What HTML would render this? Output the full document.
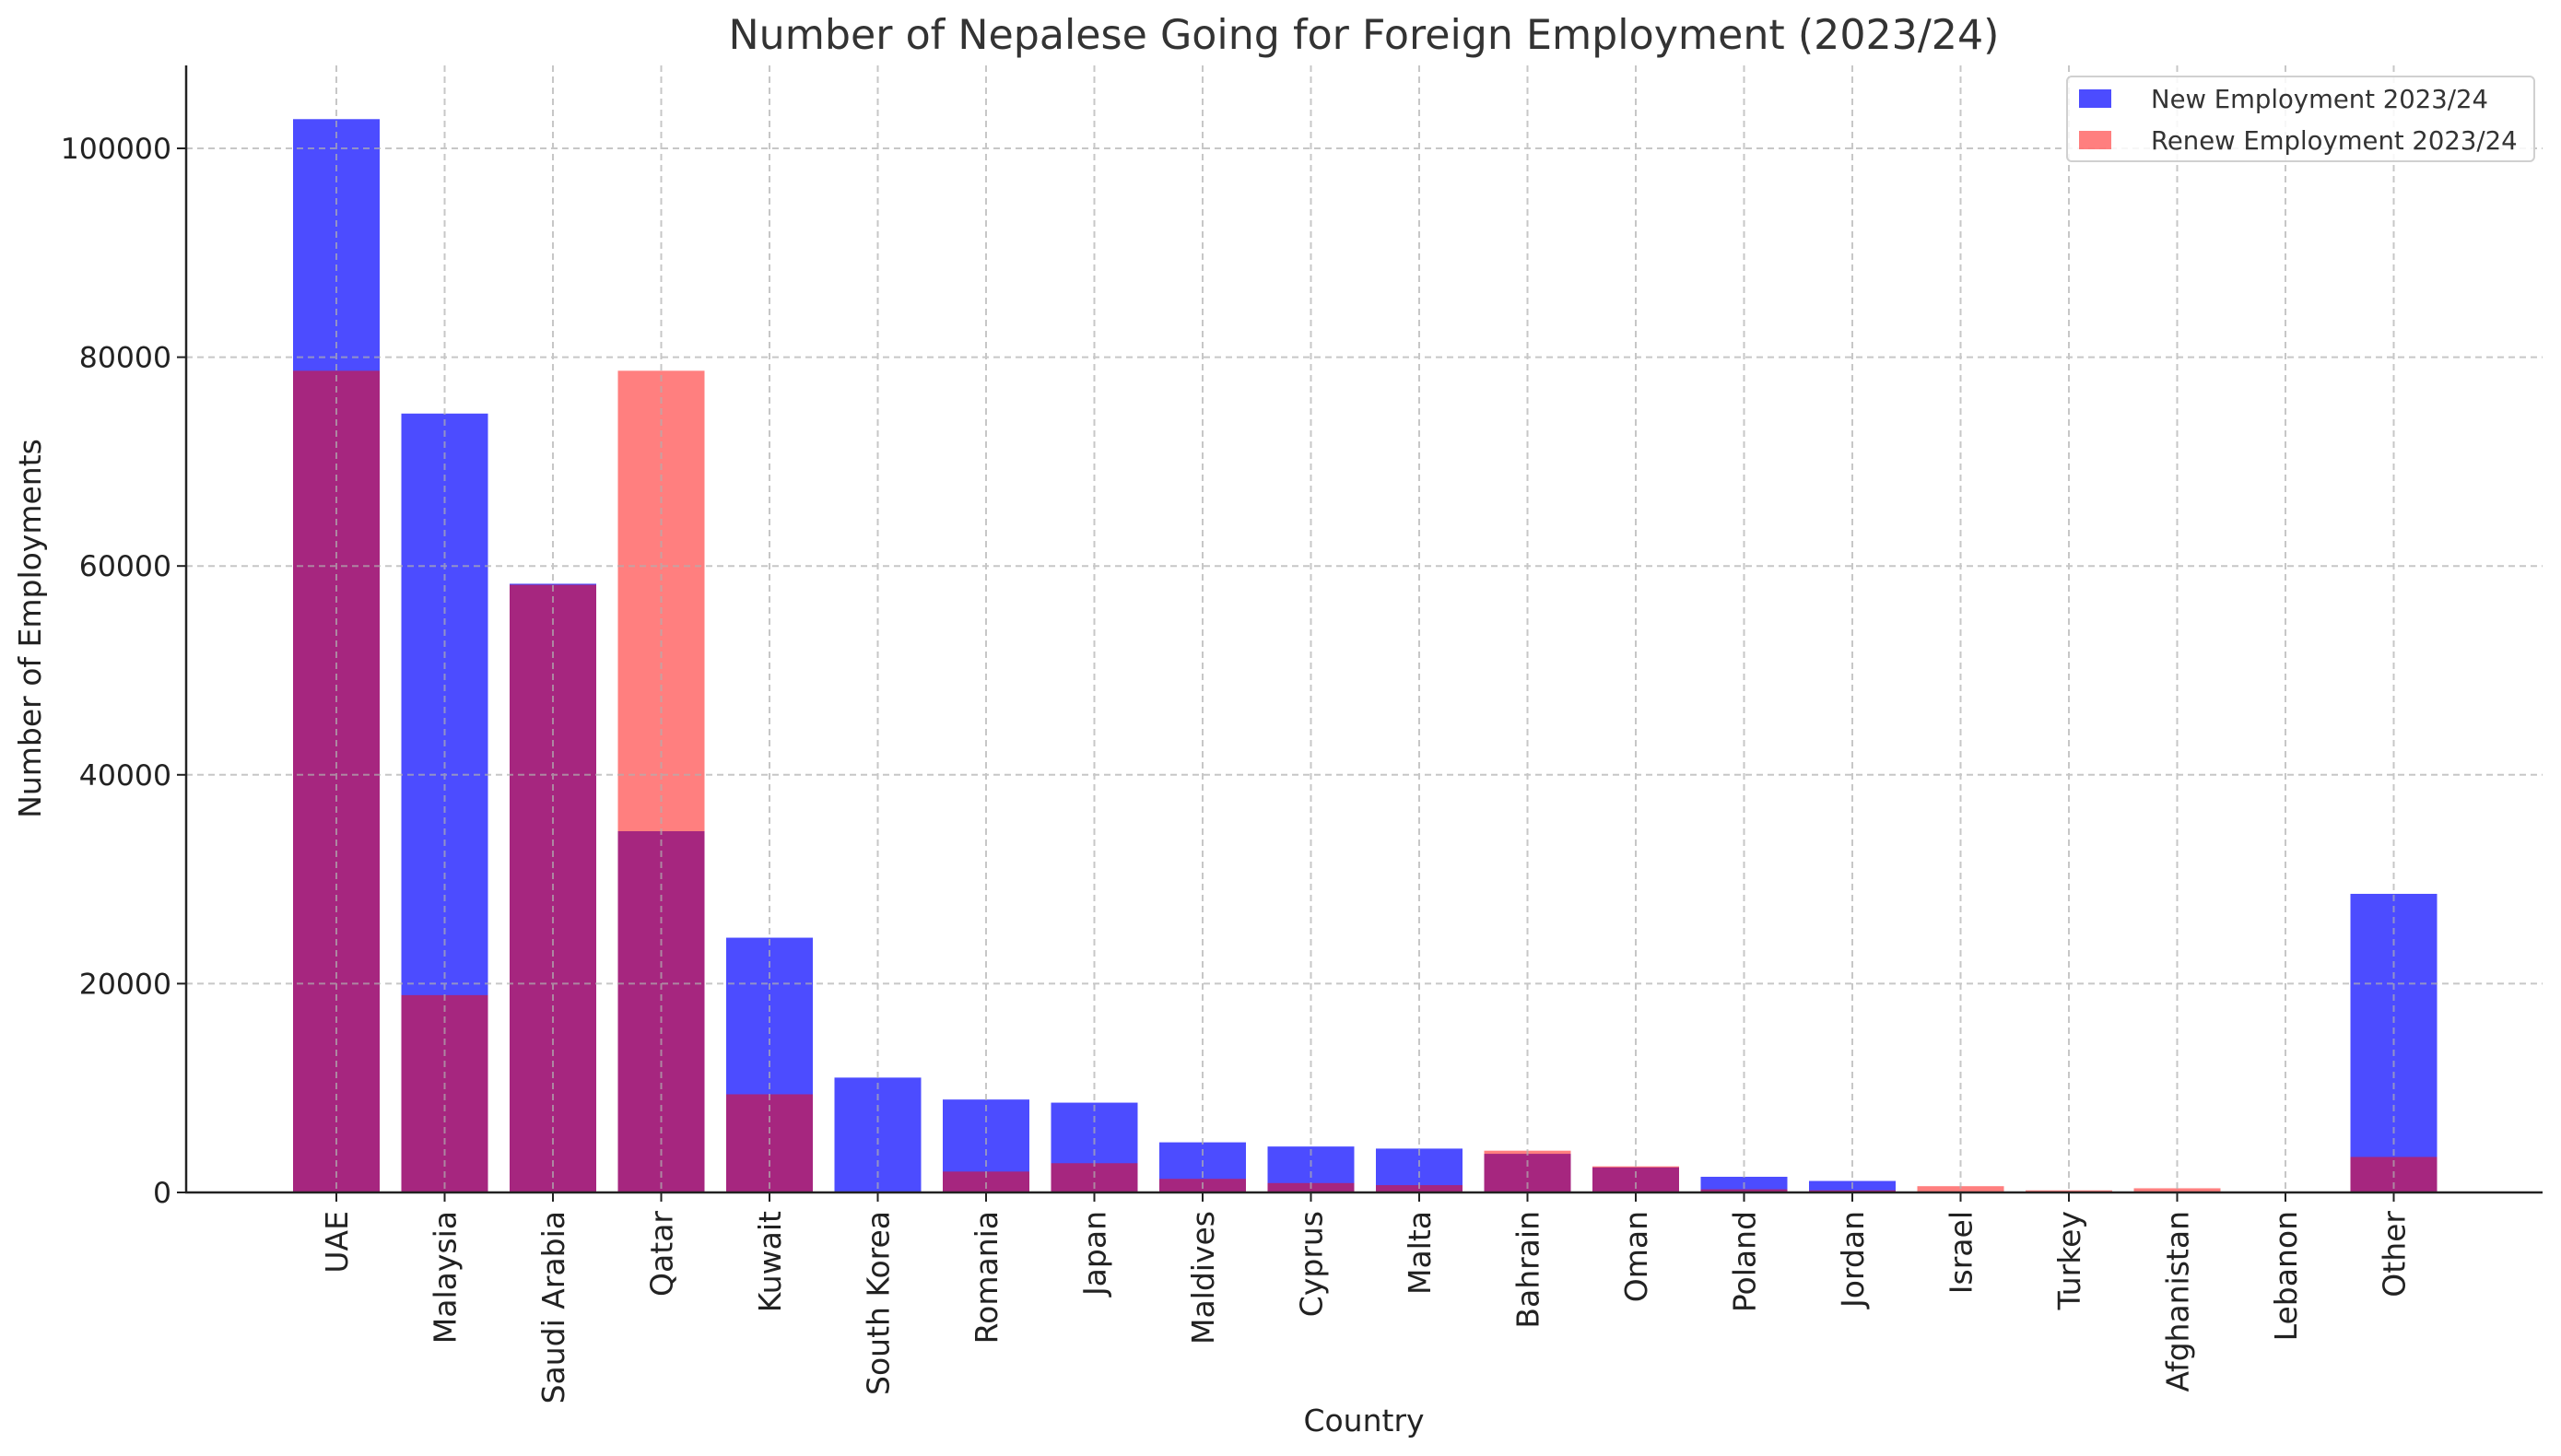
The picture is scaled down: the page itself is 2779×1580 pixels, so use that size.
<!DOCTYPE html>
<html><head><meta charset="utf-8"><style>
html,body{margin:0;padding:0;background:#fff}
svg{display:block;font-family:"DejaVu Sans","Liberation Sans",sans-serif}
</style></head><body>
<svg width="2779" height="1580" viewBox="0 0 2779 1580" xmlns="http://www.w3.org/2000/svg">
<rect width="2779" height="1580" fill="#fff"/>
<text x="1480" y="53" font-size="44.3" text-anchor="middle" fill="#333">Number of Nepalese Going for Foreign Employment (2023/24)</text>
<g id="bars"></g>
<g id="grid" stroke="#b0b0b0" stroke-width="2" stroke-dasharray="7,5" opacity="0.7"></g>
<g id="axes"></g>
<text x="1480" y="1553" font-size="33" text-anchor="middle" fill="#222">Country</text>
<text transform="translate(44,682) rotate(-90)" font-size="33" text-anchor="middle" fill="#222">Number of Employments</text>
<rect x="2243" y="83" width="507" height="92" rx="5" fill="#fff" fill-opacity="0.85" stroke="#d0d0d0" stroke-width="2"/>
<rect x="2256" y="97" width="35" height="20" fill="#0000ff" fill-opacity="0.7"/>
<rect x="2256" y="142" width="35" height="20" fill="#ff0000" fill-opacity="0.5"/>
<text x="2334" y="117" font-size="27.5" fill="#333">New Employment 2023/24</text>
<text x="2334" y="162" font-size="27.5" fill="#333">Renew Employment 2023/24</text>
<script>
var names=["UAE","Malaysia","Saudi Arabia","Qatar","Kuwait","South Korea","Romania","Japan","Maldives","Cyprus","Malta","Bahrain","Oman","Poland","Jordan","Israel","Turkey","Afghanistan","Lebanon","Other"];
var nw=[102800,74600,58300,34600,24400,11000,8900,8600,4800,4400,4200,3700,2400,1500,1100,0,0,0,0,28600];
var rn=[78700,18900,58200,78700,9400,0,2000,2800,1300,900,700,4000,2500,300,200,600,200,400,0,3400];
var ns="http://www.w3.org/2000/svg";
function el(t,a,p){var e=document.createElementNS(ns,t);for(var k in a)e.setAttribute(k,a[k]);p.appendChild(e);return e;}
function Y(v){return 1294-v*0.011330;}
var bars=document.getElementById('bars'),grid=document.getElementById('grid'),axes=document.getElementById('axes');
for(var i=0;i<20;i++){var c=365+117.5*i;
 if(nw[i]>0)el('rect',{x:c-47,y:Y(nw[i]),width:94,height:1294-Y(nw[i]),fill:'#0000ff','fill-opacity':0.7},bars);}
for(var i=0;i<20;i++){var c=365+117.5*i;
 if(rn[i]>0)el('rect',{x:c-47,y:Y(rn[i]),width:94,height:1294-Y(rn[i]),fill:'#ff0000','fill-opacity':0.5},bars);}
for(var i=0;i<20;i++){var c=365+117.5*i;
 el('line',{x1:c,y1:71,x2:c,y2:1294},grid);
 el('line',{x1:c,y1:1294,x2:c,y2:1304,stroke:'#222','stroke-width':2},axes);
 var t=el('text',{transform:'translate('+(c+12)+',1314) rotate(-90)','font-size':33,'text-anchor':'end',fill:'#222'},axes);t.textContent=names[i];}
for(var v=0;v<=100000;v+=20000){var y=Y(v);
 if(v>0)el('line',{x1:202,y1:y,x2:2759,y2:y},grid);
 el('line',{x1:192,y1:y,x2:202,y2:y,stroke:'#222','stroke-width':2},axes);
 var t=el('text',{x:186,y:y+11,'font-size':31.5,'text-anchor':'end',fill:'#222'},axes);t.textContent=v;}
el('line',{x1:202,y1:71,x2:202,y2:1295,stroke:'#222','stroke-width':2.5},axes);
el('line',{x1:201,y1:1294,x2:2759,y2:1294,stroke:'#222','stroke-width':2.5},axes);
</script>
</svg>
</body></html>
